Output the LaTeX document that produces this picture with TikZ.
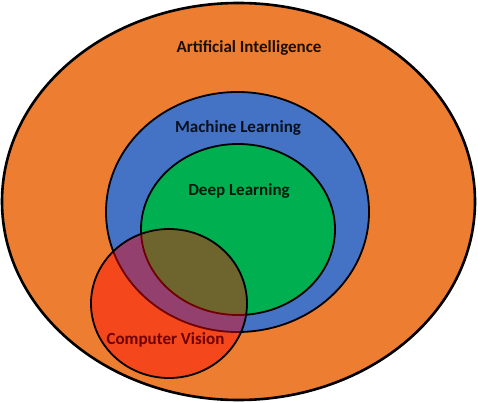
\documentclass[tikz,border=0pt]{standalone}
\usepackage{fontspec}
\setmainfont{Carlito}
\usetikzlibrary{shapes.geometric}
\definecolor{aiorange}{RGB}{237,125,49}
\definecolor{mlblue}{RGB}{68,114,196}
\definecolor{dlgreen}{RGB}{0,176,80}
\definecolor{cvred}{RGB}{255,0,0}
\tikzset{
  region/.style={ellipse, draw=black, line width=1.8pt, inner sep=0pt},
  lbl/.style={anchor=base, inner sep=0pt, font=\fontsize{17}{20}\selectfont\bfseries},
}
\begin{document}
\begin{tikzpicture}[x=1pt,y=-1pt]
\useasboundingbox (0,0) rectangle (478,403);
\node[region, line width=2.6pt, fill=aiorange, minimum width=473pt, minimum height=397pt] (ai) at (238.5,201.5) {};
\node[region, fill=mlblue, minimum width=263pt, minimum height=240pt] (ml) at (237.5,212) {};
\node[region, fill=dlgreen, minimum width=194pt, minimum height=171pt] (dl) at (238,229.5) {};
\node[lbl, text=black!88!aiorange] (ailbl) at (249,53) {Artificial Intelligence};
\node[lbl, text=black!85!mlblue] (mllbl) at (238,132.5) {Machine Learning};
\node[lbl, text=black!85!dlgreen] (dllbl) at (239,195) {Deep Learning};
\node[lbl, text=black] (cvlbl) at (165.5,344) {Computer Vision};
\node[region, fill=cvred, fill opacity=0.43, minimum width=156pt, minimum height=149pt] (cv) at (169,303.5) {};
\end{tikzpicture}
\end{document}
